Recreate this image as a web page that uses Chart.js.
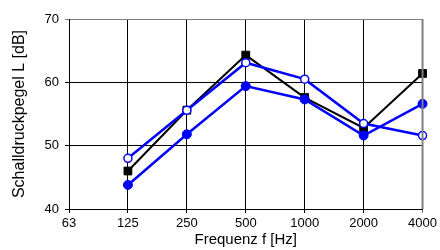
<!DOCTYPE html>
<html>
<head>
<meta charset="utf-8">
<script src="https://cdn.jsdelivr.net/npm/chart.js@4/dist/chart.umd.min.js"></script>
<style>
  html, body { margin: 0; padding: 0; background: #fff; }
  #wrap { width: 440px; height: 250px; }
</style>
</head>
<body>
<div id="wrap"><canvas id="myChart"></canvas></div>
<script>
// Frequency bands (Hz) and y ticks
var frequencies = ['63', '125', '250', '500', '1000', '2000', '4000'];
var yTicks = [40, 50, 60, 70];

// Sound pressure levels in dB (63 Hz has no values)
var level_black = [null, 46.0, 55.6, 64.3, 57.6, 52.8, 61.4];
var level_open = [null, 48.0, 55.6, 63.1, 60.5, 53.5, 51.6];
var level_filled = [null, 43.8, 51.8, 59.4, 57.3, 51.6, 56.6];

var ctx = document.getElementById('myChart').getContext('2d');

var myChart = new Chart(ctx, {
    type: 'line',
    data: {
        labels: frequencies,
        // first dataset is drawn on top
        datasets: [{
            data: level_open,
            borderColor: '#0000ff',
            borderWidth: 2.5,
            pointStyle: 'circle',
            pointRadius: 4,
            pointBorderWidth: 1.5,
            pointBackgroundColor: '#ffffff',
            pointBorderColor: '#0000ff'
        }, {
            data: level_filled,
            borderColor: '#0000ff',
            borderWidth: 2.5,
            pointStyle: 'circle',
            pointRadius: 4.5,
            pointBorderWidth: 1,
            pointBackgroundColor: '#0000ff',
            pointBorderColor: '#0000ff'
        }, {
            data: level_black,
            borderColor: '#000000',
            borderWidth: 2,
            pointStyle: 'rect',
            pointRadius: 5.5,
            pointBorderWidth: 1,
            pointBackgroundColor: '#000000',
            pointBorderColor: '#000000'
        }]
    },
    options: {
        responsive: true,
        maintainAspectRatio: false,
        animation: false,
        layout: { padding: { top: 19, right: 17, left: 0, bottom: 0 } },
        plugins: {
            legend: { display: false },
            tooltip: { enabled: false }
        },
        scales: {
            x: {
                type: 'category',
                offset: false,
                afterFit: function (scale) { scale.height = 41; },
                grid: {
                    color: function (c) { return c.index === frequencies.length - 1 ? '#808080' : '#000000'; },
                    lineWidth: 1,
                    tickLength: 4
                },
                border: { color: '#000000', width: 1 },
                ticks: {
                    color: '#000000',
                    padding: 3,
                    maxRotation: 0,
                    autoSkip: false,
                    font: { family: 'Liberation Sans', size: 13 }
                },
                title: {
                    display: true,
                    text: 'Frequenz f [Hz]',
                    color: '#000000',
                    padding: { top: 0, bottom: 1 },
                    font: { family: 'Liberation Sans', size: 15 }
                }
            },
            y: {
                min: yTicks[0],
                max: yTicks[yTicks.length - 1],
                afterFit: function (scale) { scale.width = 69; },
                afterBuildTicks: function (scale) {
                    scale.ticks = yTicks.map(function (v) { return { value: v }; });
                },
                grid: {
                    color: function (c) { return c.tick && c.tick.value === 70 ? '#808080' : '#000000'; },
                    lineWidth: 1,
                    tickLength: 4
                },
                border: { color: '#000000', width: 1 },
                ticks: {
                    color: '#000000',
                    padding: 6,
                    font: { family: 'Liberation Sans', size: 13 }
                },
                title: {
                    display: true,
                    text: 'Schalldruckpegel L [dB]',
                    color: '#000000',
                    padding: { top: 10, bottom: 0 },
                    font: { family: 'Liberation Sans', size: 16 }
                }
            }
        }
    },
    plugins: [{
        // gray right edge of the plot frame
        id: 'frame',
        afterDraw: function (chart) {
            var a = chart.chartArea;
            var c = chart.ctx;
            c.save();
            c.strokeStyle = '#808080';
            c.lineWidth = 2;
            c.beginPath();
            c.moveTo(a.right, a.top);
            c.lineTo(a.right, a.bottom);
            c.stroke();
            c.restore();
        }
    }]
});
</script>
</body>
</html>
